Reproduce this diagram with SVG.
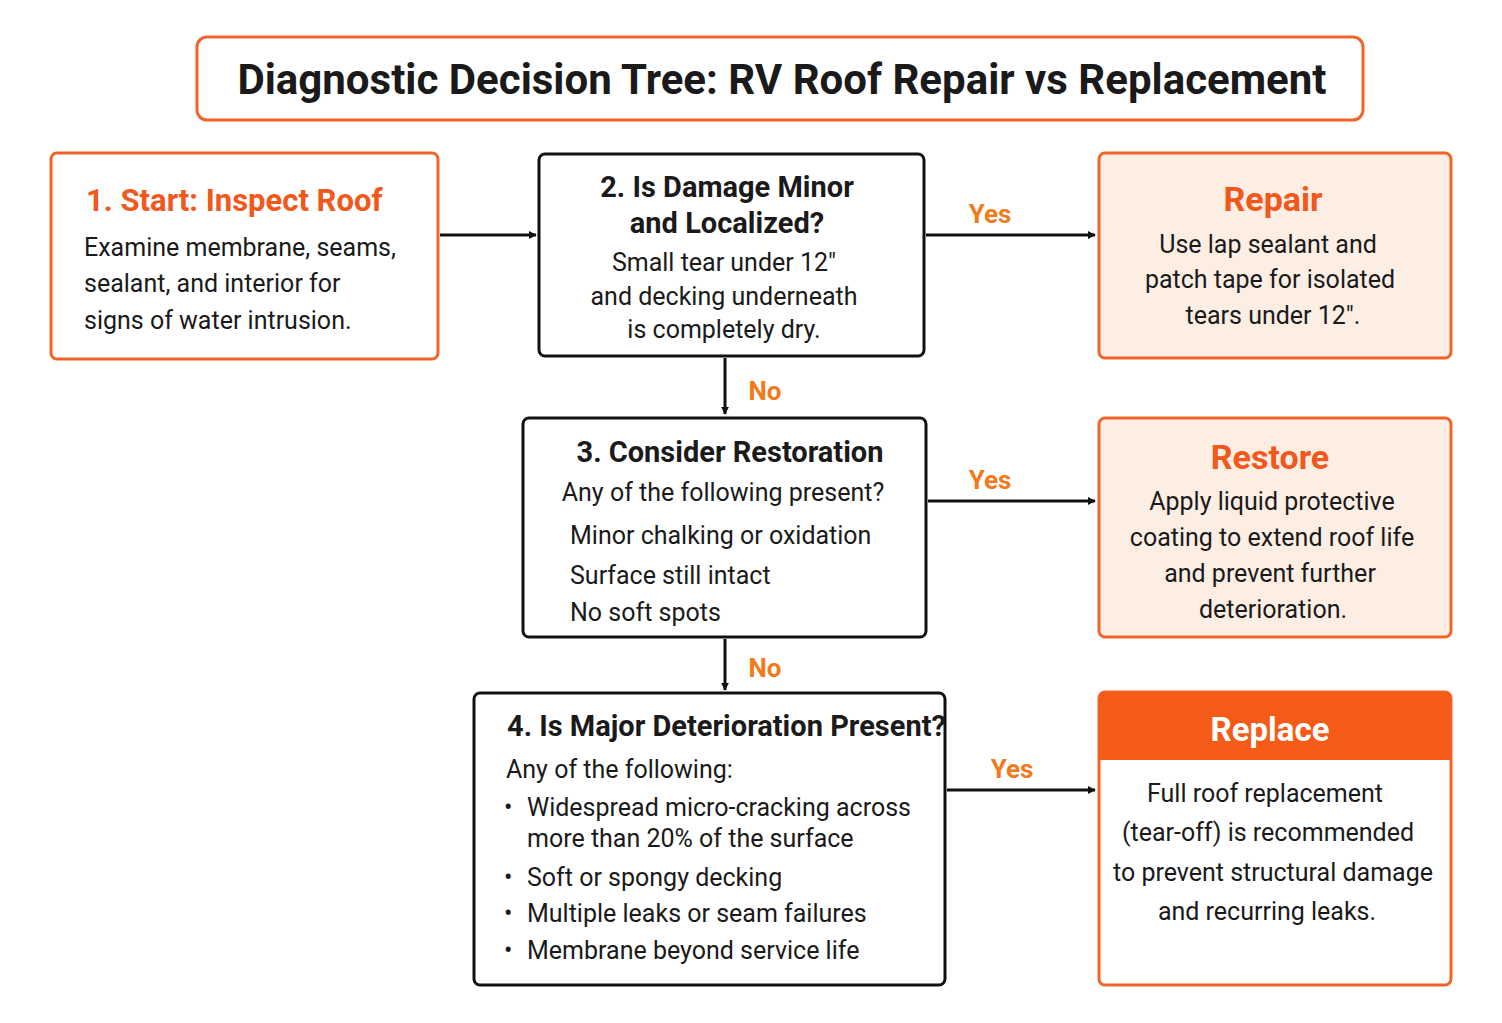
<svg xmlns="http://www.w3.org/2000/svg" width="1502" height="1023" viewBox="0 0 1502 1023">
<defs>
<marker id="ah" viewBox="0 0 10 10" refX="9" refY="5" markerWidth="8" markerHeight="8" markerUnits="userSpaceOnUse" orient="auto"><path d="M0,0 L10,5 L0,10 z" fill="#111"/></marker>
<style>
text{font-family:Roboto,"Liberation Sans",sans-serif;fill:#1a1a1a}
.b{font-size:25px}
.t{font-size:29px;font-weight:bold}
.ot{font-size:32px;font-weight:bold;fill:#f0581c}
.lab{font-size:26px;font-weight:bold;fill:#f07a1c}
.bx{fill:#fff;stroke:#111;stroke-width:3}
.ob{fill:#fff;stroke:#f0642a;stroke-width:3}
.of{fill:#fdeee4;stroke:#f0642a;stroke-width:3}
.c{stroke:#111;stroke-width:3;fill:none}
</style>
</defs>
<rect width="1502" height="1023" fill="#fff"/>
<g id="title"><rect x="197" y="37" width="1166" height="83" rx="10" class="ob"/><text x="782" y="94" text-anchor="middle" style="font-size:42px;font-weight:bold">Diagnostic Decision Tree: RV Roof Repair vs Replacement</text></g>
<g id="n1"><rect x="51" y="153" width="387" height="206" rx="6" class="ob"/>
<text x="86" y="211" class="ot" style="font-size:31px">1. Start: Inspect Roof</text>
<text class="b" x="84" y="256">Examine membrane, seams,</text><text class="b" x="84" y="292">sealant, and interior for</text><text class="b" x="84" y="329">signs of water intrusion.</text></g>
<g id="n2"><rect x="539" y="154" width="385" height="202" rx="6" class="bx"/>
<g text-anchor="middle"><text x="727" y="197" class="t">2. Is Damage Minor</text><text x="727" y="233" class="t">and Localized?</text>
<text class="b" x="724" y="271">Small tear under 12"</text><text class="b" x="724" y="305">and decking underneath</text><text class="b" x="724" y="338">is completely dry.</text></g></g>
<g id="repair"><rect x="1099" y="153" width="352" height="205" rx="6" class="of"/>
<g text-anchor="middle"><text x="1273" y="211" class="ot" style="font-size:34px">Repair</text>
<text class="b" x="1268" y="253">Use lap sealant and</text><text class="b" x="1270" y="288">patch tape for isolated</text><text class="b" x="1273" y="324">tears under 12".</text></g></g>
<g id="n3"><rect x="523" y="418" width="403" height="219" rx="6" class="bx"/>
<text x="730" y="462" class="t" text-anchor="middle">3. Consider Restoration</text>
<text x="723" y="501" class="b" text-anchor="middle">Any of the following present?</text>
<text class="b" x="570" y="544">Minor chalking or oxidation</text><text class="b" x="570" y="584">Surface still intact</text><text class="b" x="570" y="621">No soft spots</text></g>
<g id="restore"><rect x="1099" y="418" width="352" height="219" rx="6" class="of"/>
<g text-anchor="middle"><text x="1270" y="469" class="ot" style="font-size:34px">Restore</text>
<text class="b" x="1272" y="510">Apply liquid protective</text><text class="b" x="1272" y="546">coating to extend roof life</text><text class="b" x="1270" y="582">and prevent further</text><text class="b" x="1273" y="618">deterioration.</text></g></g>
<g id="n4"><rect x="474" y="693" width="471" height="292" rx="6" class="bx"/>
<text x="507" y="736" class="t">4. Is Major Deterioration Present?</text>
<text x="506" y="778" class="b">Any of the following:</text>
<g class="b"><text x="504" y="816">•</text><text x="527" y="816">Widespread micro-cracking across</text><text x="527" y="847">more than 20% of the surface</text>
<text x="504" y="886">•</text><text x="527" y="886">Soft or spongy decking</text>
<text x="504" y="922">•</text><text x="527" y="922">Multiple leaks or seam failures</text>
<text x="504" y="959">•</text><text x="527" y="959">Membrane beyond service life</text></g></g>
<g id="replace"><rect x="1099" y="692" width="352" height="293" rx="6" class="ob"/>
<path d="M1099,760 V698 a6,6 0 0 1 6,-6 H1445 a6,6 0 0 1 6,6 V760 z" fill="#f45a18"/>
<g text-anchor="middle"><text x="1270" y="741" style="font-size:33px;font-weight:bold;fill:#fff">Replace</text>
<text class="b" x="1265" y="802">Full roof replacement</text><text class="b" x="1268" y="841">(tear-off) is recommended</text><text class="b" x="1273" y="881">to prevent structural damage</text><text class="b" x="1267" y="920">and recurring leaks.</text></g></g>
<g id="connectors">
<line x1="440" y1="235" x2="536" y2="235" class="c" marker-end="url(#ah)"/>
<line x1="926" y1="235" x2="1095" y2="235" class="c" marker-end="url(#ah)"/>
<line x1="725" y1="358" x2="725" y2="414" class="c" marker-end="url(#ah)"/>
<line x1="928" y1="501" x2="1095" y2="501" class="c" marker-end="url(#ah)"/>
<line x1="725" y1="639" x2="725" y2="690" class="c" marker-end="url(#ah)"/>
<line x1="947" y1="790" x2="1095" y2="790" class="c" marker-end="url(#ah)"/>
<text x="990" y="223" class="lab" text-anchor="middle">Yes</text>
<text x="765" y="400" class="lab" text-anchor="middle">No</text>
<text x="990" y="489" class="lab" text-anchor="middle">Yes</text>
<text x="765" y="677" class="lab" text-anchor="middle">No</text>
<text x="1012" y="778" class="lab" text-anchor="middle">Yes</text>
</g>
</svg>
